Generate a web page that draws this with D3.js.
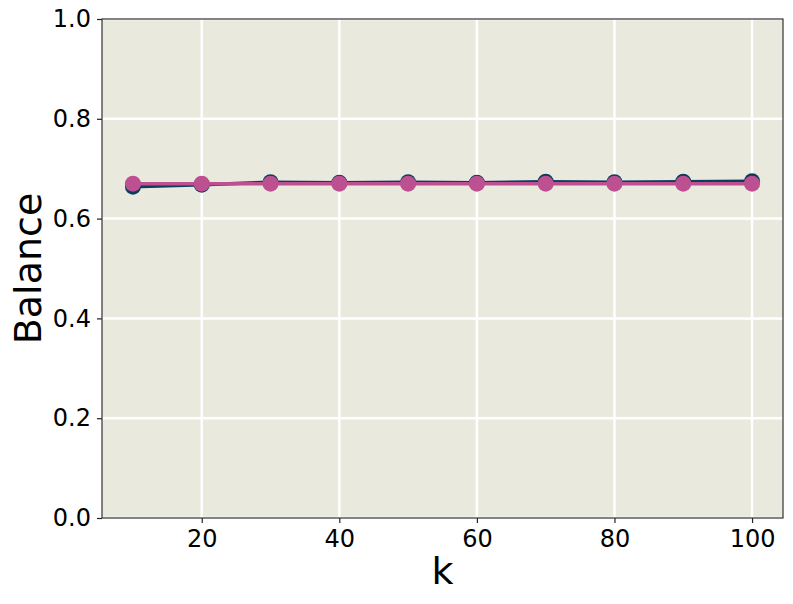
<!DOCTYPE html>
<html>
  <head>
    <meta charset="utf-8">
    <script src="https://cdn.jsdelivr.net/npm/d3@7"></script>
    <style>
      body { margin: 0; background: #fff; }
      text { font-family: "DejaVu Sans", sans-serif; fill: #000; }
    </style>
  </head>
  <body>
    <script>

    var width = 793,
        height = 604;

    // data
    var ks = [10, 20, 30, 40, 50, 60, 70, 80, 90, 100];
    var balanceA = [0.664, 0.668, 0.673, 0.672, 0.673, 0.672, 0.674, 0.673, 0.674, 0.675];
    var balanceB = [0.670, 0.670, 0.670, 0.670, 0.670, 0.670, 0.670, 0.670, 0.670, 0.670];
    var xTicks = [20, 40, 60, 80, 100];
    var yTicks = [0, 0.2, 0.4, 0.6, 0.8, 1.0];

    var series = [
      {values: balanceA, color: "#0b3d5c"},
      {values: balanceB, color: "#bc5090"}
    ];

    var margin = {left: 102, right: 10, top: 19, bottom: 86};

    var x = d3.scaleLinear()
        .domain([5.5, 104.5])
        .range([margin.left, width - margin.right]);

    var y = d3.scaleLinear()
        .domain([0, 1])
        .range([height - margin.bottom, margin.top]);

    var svg = d3.select("body").append("svg")
        .attr("width", width)
        .attr("height", height);

    svg.append("rect")
        .attr("x", x.range()[0])
        .attr("y", y.range()[1])
        .attr("width", x.range()[1] - x.range()[0])
        .attr("height", y.range()[0] - y.range()[1])
        .attr("fill", "#e9e9de");

    // grid
    svg.append("g").selectAll("line")
        .data(xTicks).enter().append("line")
        .attr("x1", d => x(d)).attr("x2", d => x(d))
        .attr("y1", y.range()[0]).attr("y2", y.range()[1])
        .attr("stroke", "#fff").attr("stroke-width", 2.5);

    svg.append("g").selectAll("line")
        .data(yTicks).enter().append("line")
        .attr("x1", x.range()[0]).attr("x2", x.range()[1])
        .attr("y1", d => y(d)).attr("y2", d => y(d))
        .attr("stroke", "#fff").attr("stroke-width", 2.5);

    var line = d3.line()
        .x((d, i) => x(ks[i]))
        .y(d => y(d));

    series.forEach(function(s) {
      svg.append("path")
          .datum(s.values)
          .attr("d", line)
          .attr("fill", "none")
          .attr("stroke", s.color)
          .attr("stroke-width", 3.5);

      svg.append("g").selectAll("circle")
          .data(s.values).enter().append("circle")
          .attr("cx", (d, i) => x(ks[i]))
          .attr("cy", d => y(d))
          .attr("r", 8)
          .attr("fill", s.color);
    });

    // axes
    var xAxis = svg.append("g")
        .attr("transform", "translate(0," + y.range()[0] + ")")
        .call(d3.axisBottom(x).tickValues(xTicks).tickSize(5).tickPadding(7));

    var yAxis = svg.append("g")
        .attr("transform", "translate(" + x.range()[0] + ",0)")
        .call(d3.axisLeft(y).tickValues(yTicks).tickSize(5).tickPadding(6).tickFormat(d3.format(".1f")));

    [xAxis, yAxis].forEach(function(a) {
      a.attr("font-family", null).attr("font-size", null);
      a.select(".domain").remove();
      a.selectAll("line").attr("stroke", "#222").attr("stroke-width", 1.2);
      a.selectAll("text").style("font-size", "24px").attr("fill", "#000");
    });

    // frame
    svg.append("rect")
        .attr("x", x.range()[0])
        .attr("y", y.range()[1])
        .attr("width", x.range()[1] - x.range()[0])
        .attr("height", y.range()[0] - y.range()[1])
        .attr("fill", "none")
        .attr("stroke", "#333")
        .attr("stroke-width", 1.2);

    svg.append("text")
        .attr("x", (x.range()[0] + x.range()[1]) / 2)
        .attr("y", 584)
        .attr("text-anchor", "middle")
        .style("font-size", "38px")
        .text("k");

    svg.append("text")
        .attr("transform", "translate(41," + ((y.range()[0] + y.range()[1]) / 2) + ") rotate(-90)")
        .attr("text-anchor", "middle")
        .style("font-size", "38px")
        .text("Balance");

    </script>
  </body>
</html>
